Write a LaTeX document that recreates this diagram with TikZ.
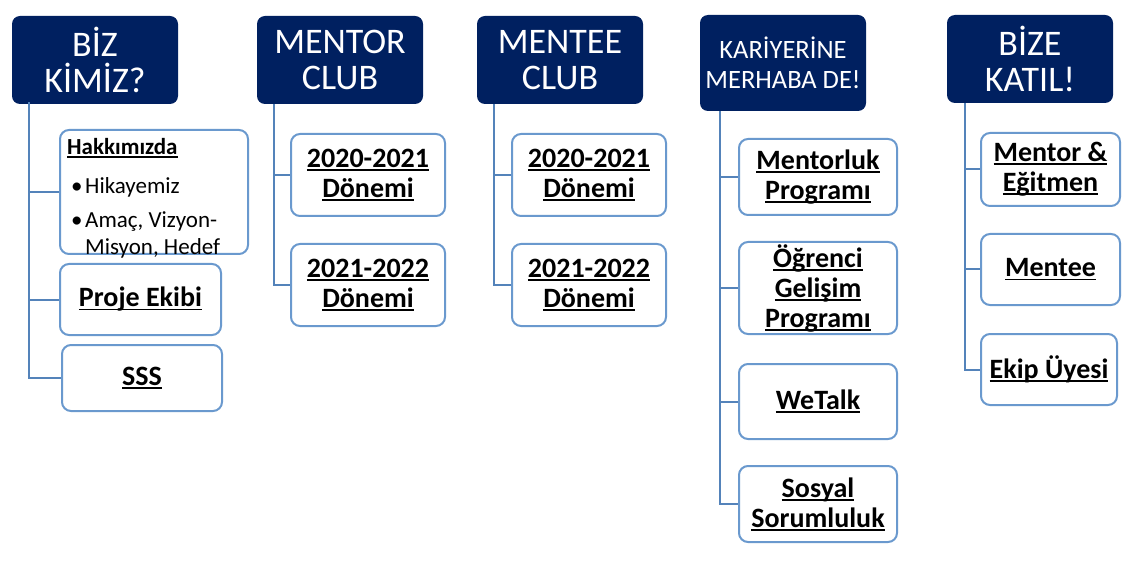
\documentclass[tikz,border=0pt]{standalone}
\usepackage{fontspec}
\setmainfont{Carlito}
\usepackage{tikz}
\usetikzlibrary{positioning}
\definecolor{navy}{RGB}{0,32,96}
\definecolor{linkblue}{RGB}{84,131,186}
\definecolor{edgeblue}{RGB}{106,153,206}
\tikzset{headbox/.style = {draw=none,fill=navy,rounded corners=8pt,text=white,
		minimum width=166pt,minimum height=88pt,align=center,
		font=\fontsize{36}{36}\selectfont},
	subbox/.style = {draw=edgeblue,line width=2pt,fill=white,rounded corners=9pt,
		minimum width=#1,align=center,inner sep=0pt,
		font=\bfseries\fontsize{28}{30}\selectfont},
	subbox/.default = 158pt,
	conn/.style = {draw=linkblue,line width=2pt}}
\newcommand{\undl}[1]{\sbox0{#1}\rlap{\rule[-3.5pt]{\wd0}{1.8pt}}\usebox0}

\begin{document}
\begin{tikzpicture}[x=1pt,y=-1pt]
\useasboundingbox[fill=white] (0,0) rectangle (1132,561);
% headers
\node[headbox] (biz) at (95,60) {BİZ\\KİMİZ?};
\node[headbox] (mentor) at (340,60) {MENTOR\\CLUB};
\node[headbox] (mentee) at (560,60) {MENTEE\\CLUB};
\node[headbox,minimum height=96pt,font=\fontsize{26.5}{30}\selectfont] (kariyer) at (783,63) {KARİYERİNE\\MERHABA DE!};
\node[headbox] (katil) at (1030,59) {BİZE\\KATIL!};
% trunks
\coordinate (t1) at ([xshift=17pt,yshift=2pt]biz.south west);
\coordinate (t2) at ([xshift=17pt]mentor.south west);
\coordinate (t3) at ([xshift=17pt]mentee.south west);
\coordinate (t4) at ([xshift=20pt]kariyer.south west);
\coordinate (t5) at ([xshift=18pt]katil.south west);
% BIZ KIMIZ
\node[subbox=188pt,minimum height=124pt] (hak) at (154,192) {};
\node[anchor=north west,align=left,inner sep=0pt,font=\fontsize{23}{26}\selectfont]
	(hakt) at ([xshift=8pt,yshift=-9pt]hak.north west)
	{\textbf{\undl{Hakkımızda}}\\[13pt]
	\hspace{4pt}\makebox[14pt][l]{•}Hikayemiz\\[8pt]
	\hspace{4pt}\makebox[14pt][l]{•}Amaç, Vizyon-\\[1pt]
	\hspace{18pt}Misyon, Hedef};
\node[subbox=161pt,minimum height=71pt] (proje) at (140.5,299.5) {\undl{Proje Ekibi}};
\node[subbox=160pt,minimum height=66pt] (sss) at (142,378) {\undl{SSS}};
% MENTOR CLUB
\node[subbox=154pt,minimum height=82pt] (mc1) at (368,175) {\undl{2020-2021}\\\undl{Dönemi}};
\node[subbox=154pt,minimum height=82pt] (mc2) at (368,285) {\undl{2021-2022}\\\undl{Dönemi}};
% MENTEE CLUB
\node[subbox=154pt,minimum height=82pt] (me1) at (589,175) {\undl{2020-2021}\\\undl{Dönemi}};
\node[subbox=154pt,minimum height=82pt] (me2) at (589,285) {\undl{2021-2022}\\\undl{Dönemi}};
% KARIYERINE MERHABA DE
\node[subbox,minimum height=76pt] (kp1) at (818,177) {\undl{Mentorluk}\\\undl{Programı}};
\node[subbox,minimum height=92pt] (kp2) at (818,288) {\undl{Öğrenci}\\\undl{Gelişim}\\\undl{Programı}};
\node[subbox,minimum height=75pt] (kp3) at (818,401.5) {\undl{WeTalk}};
\node[subbox,minimum height=76pt] (kp4) at (818,504) {\undl{Sosyal}\\\undl{Sorumluluk}};
% BIZE KATIL
\node[subbox=139pt,minimum height=73pt] (kt1) at (1050.5,169.5) {\undl{Mentor \&}\\\undl{Eğitmen}};
\node[subbox=139pt,minimum height=71pt] (kt2) at (1050.5,269.5) {\undl{Mentee}};
\node[subbox=136pt,minimum height=71pt] (kt3) at (1049,369.5) {\undl{Ekip Üyesi}};
% connectors
\foreach \t/\c in {t1/hak,t1/proje,t1/sss,t2/mc1,t2/mc2,t3/me1,t3/me2,
	t4/kp1,t4/kp2,t4/kp3,t4/kp4,t5/kt1,t5/kt2,t5/kt3}
	\draw[conn] (\t) |- (\c.west);
\end{tikzpicture}
\end{document}
